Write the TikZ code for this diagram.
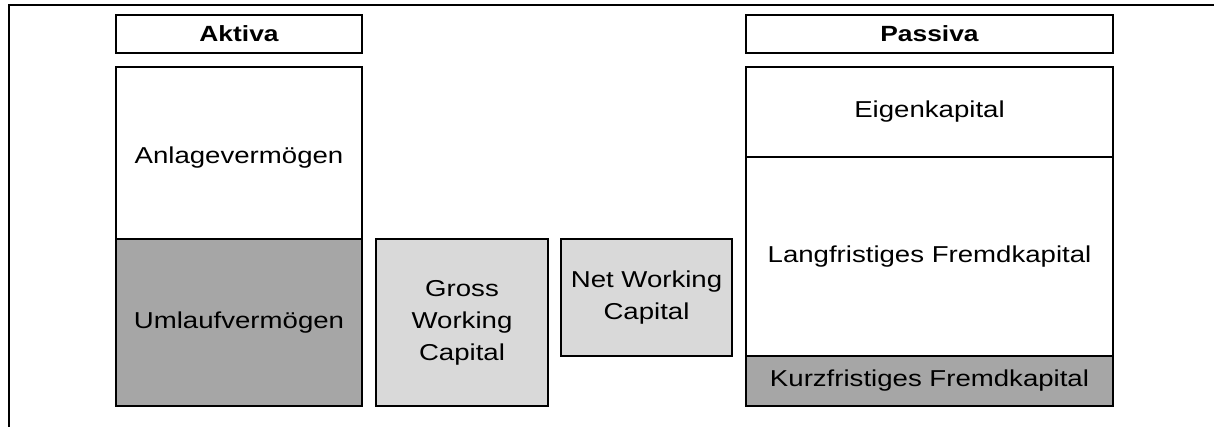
\documentclass[tikz,border=0pt]{standalone}
\usepackage{fontspec}
\setmainfont{Liberation Sans}[FakeStretch=1.2]
\definecolor{darkfill}{RGB}{166,166,166}
\definecolor{lightfill}{RGB}{217,217,217}
\tikzset{
  box/.style={draw, line width=2.6pt, inner sep=0pt, align=center,
    font=\fontsize{23}{32}\selectfont},
  headbox/.style={box, font=\fontsize{22}{30}\selectfont\bfseries},
  darkbox/.style={box, fill=darkfill},
  lightbox/.style={box, fill=lightfill},
  frame/.style={line width=2pt}
}
\begin{document}
\begin{tikzpicture}[x=1pt, y=-1pt]
  \useasboundingbox (0,0) rectangle (1214,427);
  % outer frame (cut off at the right and bottom)
  \coordinate (fbl) at (8.5,427);
  \coordinate (ftl) at (8.5,5.5);
  \coordinate (ftr) at (1214,5.5);
  \draw[frame] (fbl) -- (ftl) -- (ftr);
  % Aktiva side
  \node[headbox, minimum width=246pt, minimum height=38pt] (aktiva) at (239,34) {Aktiva};
  \node[box, minimum width=246pt, minimum height=172pt] (anlage) at (239,153) {\raisebox{-5pt}[\height][\depth]{Anlagevermögen}};
  \node[darkbox, minimum width=246pt, minimum height=167pt] (umlauf) at (239,322.5) {Umlaufvermögen};
  % working capital
  \node[lightbox, minimum width=172pt, minimum height=167pt] (gross) at (462,322.5) {Gross\\Working\\Capital};
  \node[lightbox, minimum width=171pt, minimum height=117pt] (net) at (646.5,297.5) {Net Working\\Capital};
  % Passiva side
  \node[headbox, minimum width=367pt, minimum height=38pt] (passiva) at (929.5,34) {Passiva};
  \node[box, minimum width=367pt, minimum height=90pt] (eigen) at (929.5,112) {Eigenkapital};
  \node[box, minimum width=367pt, minimum height=199pt] (lang) at (929.5,256.5) {Langfristiges Fremdkapital};
  \node[darkbox, minimum width=367pt, minimum height=50pt] (kurz) at (929.5,381) {Kurzfristiges Fremdkapital};
\end{tikzpicture}
\end{document}
